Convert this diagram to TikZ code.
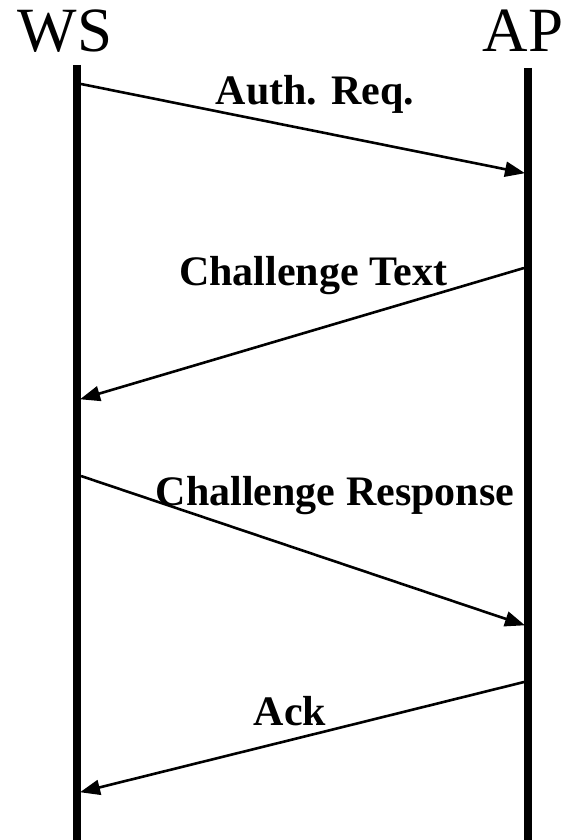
\documentclass[tikz,border=0pt]{standalone}
\usepackage{fontspec}
\setmainfont{Liberation Serif}
\usetikzlibrary{arrows.meta}
\begin{document}
\begin{tikzpicture}[x=1pt,y=-1pt,
  lifeline/.style={line width=8pt},
  msg/.style={line width=2.6pt,-{Triangle[length=20pt,width=15pt]}, shorten >=-1pt},
  entity/.style={font=\fontsize{63}{70}\selectfont, anchor=base, inner sep=0pt},
  msglabel/.style={font=\fontsize{42}{48}\selectfont\bfseries, anchor=base, inner sep=0pt}]
\useasboundingbox (0,0) rectangle (569,840);

% participants
\node[entity] (ws) at (65,52) {WS};
\node[entity] (ap) at (523,52) {AP};

% lifelines
\coordinate (wsTop) at (77,65);
\coordinate (wsBot) at (77,840);
\coordinate (apTop) at (528,68);
\coordinate (apBot) at (528,840);
\draw[lifeline] (wsTop) -- (wsBot);
\draw[lifeline] (apTop) -- (apBot);

% message end points on the lifelines
\coordinate (m1s) at (81,84);   \coordinate (m1e) at (524,173);
\coordinate (m2s) at (524,268); \coordinate (m2e) at (81,399);
\coordinate (m3s) at (81,476);  \coordinate (m3e) at (524,625);
\coordinate (m4s) at (524,682); \coordinate (m4e) at (81,792);

% messages
\draw[msg] (m1s) -- (m1e);
\draw[msg] (m2s) -- (m2e);
\draw[msg] (m3s) -- (m3e);
\draw[msg] (m4s) -- (m4e);

% message labels
\node[msglabel] (l1) at (315,105) {Auth. Req.};
\node[msglabel] (l2) at (313,285) {Challenge Text};
\node[msglabel] (l3) at (335,505) {Challenge Response};
\node[msglabel] (l4) at (290,725) {Ack};
\end{tikzpicture}
\end{document}
